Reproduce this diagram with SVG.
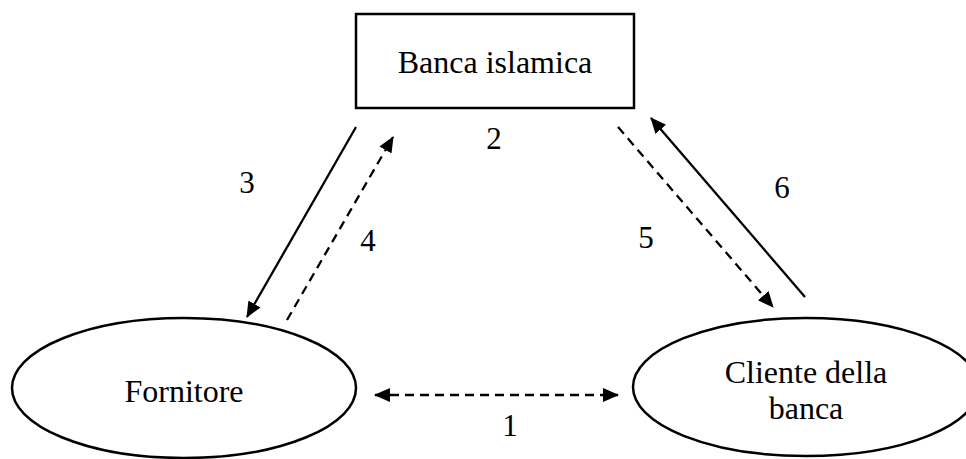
<svg xmlns="http://www.w3.org/2000/svg" width="966" height="459" viewBox="0 0 966 459">
  <style>
    .shape { fill: #ffffff; stroke: #000000; stroke-width: 2.5; }
    .label { font-family: "Liberation Serif", "Times New Roman", serif; font-size: 32px; fill: #000000; text-anchor: middle; }
    .num { font-family: "Liberation Serif", "Times New Roman", serif; font-size: 31px; fill: #000000; text-anchor: middle; }
    .solid { fill: none; stroke: #000000; stroke-width: 2.3; }
    .dashed { fill: none; stroke: #000000; stroke-width: 2.3; stroke-dasharray: 9 6; }
  </style>
  <defs>
    <marker id="head" markerUnits="userSpaceOnUse" markerWidth="18" markerHeight="16" refX="15" refY="7" orient="auto-start-reverse">
      <path d="M0,0 L16,7 L0,14 z" fill="#000000"/>
    </marker>
  </defs>

  <rect width="966" height="459" fill="#ffffff"/>

  <g id="banca-islamica">
    <rect class="shape" x="356" y="14" width="278" height="94"/>
    <text class="label" x="495" y="73">Banca islamica</text>
  </g>

  <g id="fornitore">
    <ellipse class="shape" cx="184" cy="388" rx="172" ry="70"/>
    <text class="label" x="184" y="402">Fornitore</text>
  </g>

  <g id="cliente">
    <ellipse class="shape" cx="806" cy="387" rx="173" ry="69"/>
    <text class="label" x="806" y="383">Cliente della</text>
    <text class="label" x="806" y="419">banca</text>
  </g>

  <g id="connectors">
    <!-- 3: bank to supplier -->
    <line class="solid" x1="356" y1="127" x2="247" y2="317" marker-end="url(#head)"/>
    <!-- 4: supplier to bank -->
    <line class="dashed" x1="287" y1="320" x2="393" y2="137" marker-end="url(#head)"/>
    <!-- 5: bank to client -->
    <line class="dashed" x1="618" y1="127" x2="773" y2="307" marker-end="url(#head)"/>
    <!-- 6: client to bank -->
    <line class="solid" x1="805" y1="297" x2="651" y2="118" marker-end="url(#head)"/>
    <!-- 1: supplier and client -->
    <line class="dashed" x1="375" y1="395" x2="618" y2="395" marker-start="url(#head)" marker-end="url(#head)"/>
  </g>

  <g id="step-numbers">
    <text class="num" x="510" y="436">1</text>
    <text class="num" x="494" y="149">2</text>
    <text class="num" x="247" y="193">3</text>
    <text class="num" x="368" y="251">4</text>
    <text class="num" x="646" y="248">5</text>
    <text class="num" x="782" y="198">6</text>
  </g>
</svg>
